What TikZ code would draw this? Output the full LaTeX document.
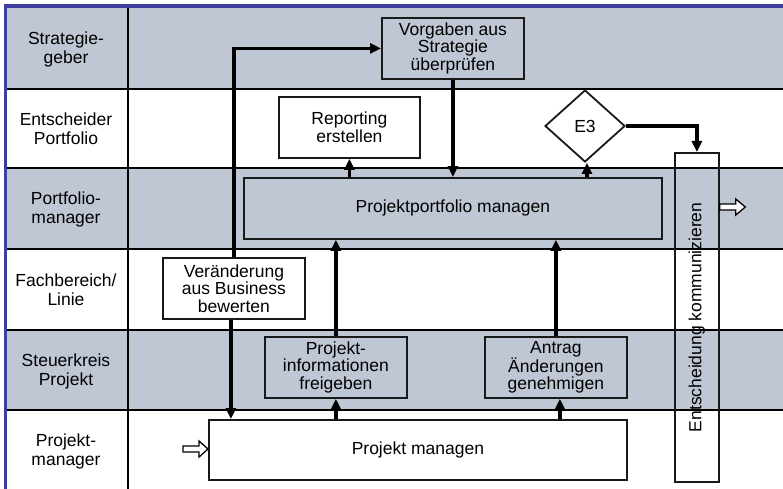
\documentclass[tikz,border=0pt]{standalone}
\usepackage{fontspec}
\setmainfont{Liberation Sans}
\usetikzlibrary{arrows.meta,shapes.geometric,calc}
\definecolor{lanegray}{RGB}{191,198,212}
\definecolor{frameblue}{RGB}{62,62,158}
\begin{document}
\begin{tikzpicture}[x=1pt,y=-1pt,
  every node/.style={font=\fontsize{17.5}{17.5}\selectfont, align=center, text=black},
  lanelabel/.style={font=\fontsize{17.5}{19}\selectfont},
  task/.style={draw=black!90, line width=1.8pt, inner sep=0pt, anchor=north west},
  graytask/.style={task, fill=lanegray},
  whitetask/.style={task, fill=white},
  laneline/.style={draw=black, line width=2.4pt},
  flow/.style={draw=black, line width=3.3pt, -{Triangle[length=11pt,width=10pt]}},
  hollowarrow/.style={draw=black, line width=1.3pt, fill=white, line join=miter}
]
\useasboundingbox (0,0) rectangle (783,489);

% swimlane backgrounds
\fill[white] (0,0) rectangle (783,489);
\fill[lanegray] (6,7) rectangle (783,89);
\fill[lanegray] (6,168) rectangle (783,249);
\fill[lanegray] (6,330) rectangle (783,410);

% lane separators
\foreach \yy in {89,168,249,330,410}
  \draw[laneline] (6,\yy) -- (783,\yy);
\draw[laneline] (128,7) -- (128,489);

% outer frame
\draw[frameblue, line width=3.5pt] (5.5,489) -- (5.5,6) -- (783,6);

% lane labels
\node[lanelabel] (l1) at (66,49)  {Strategie-\\geber};
\node[lanelabel] (l2) at (66,129) {Entscheider\\Portfolio};
\node[lanelabel] (l3) at (66,209) {Portfolio-\\manager};
\node[lanelabel] (l4) at (66,290) {Fachbereich/\\Linie};
\node[lanelabel] (l5) at (66,371) {Steuerkreis\\Projekt};
\node[lanelabel] (l6) at (66,451) {Projekt-\\manager};

% activities
\node[graytask, minimum width=142pt, minimum height=61pt] (vorgaben) at (381,17)
  {Vorgaben aus\\Strategie\\überprüfen};
\node[whitetask, minimum width=141pt, minimum height=61pt] (reporting) at (278,96)
  {Reporting\\erstellen};
\node[graytask, minimum width=418pt, minimum height=61pt] (portfolio) at (243,177)
  {Projektportfolio managen};
\node[draw=black!90, line width=1.8pt, fill=white, diamond, inner sep=0pt,
  minimum width=80pt, minimum height=72pt] (e3) at (585,126) {E3};
\node[task, minimum width=44pt, minimum height=329pt] (entsch) at (674,152) {};
\node[rotate=90] (entschtext) at (entsch.center) {Entscheidung kommunizieren};
\node[whitetask, minimum width=142pt, minimum height=61pt] (veraend) at (162,257)
  {Veränderung\\aus Business\\bewerten};
\node[graytask, minimum width=142pt, minimum height=61pt] (pinfo) at (264,336)
  {Projekt-\\informationen\\freigeben};
\node[graytask, minimum width=142pt, minimum height=61pt] (antrag) at (484,336)
  {Antrag\\Änderungen\\genehmigen};
\node[whitetask, minimum width=418pt, minimum height=60pt] (pm) at (208,419)
  {Projekt managen};

% flows
\draw[flow] (veraend.north) |- (vorgaben.west);
\draw[flow] ([xshift=-3pt]veraend.south) -- ([xshift=-3pt]veraend.south |- pm.north);
\draw[flow] (vorgaben.south) -- (vorgaben.south |- portfolio.north);
\draw[flow] (reporting.south |- portfolio.north) -- (reporting.south);
\draw[flow] ([xshift=2pt]e3.south |- portfolio.north) -- ([xshift=2pt]e3.south);
\draw[flow] (e3.east) -| (entsch.north);
\draw[flow] (pinfo.north) -- (pinfo.north |- portfolio.south);
\draw[flow] (pinfo.south |- pm.north) -- (pinfo.south);
\draw[flow] (antrag.north) -- (antrag.north |- portfolio.south);
\draw[flow] ([xshift=4pt]antrag.south |- pm.north) -- ([xshift=4pt]antrag.south);

% hollow hand-over arrows
\coordinate (inL) at ($(pm.west |- 0,449)+(-25,0)$);
\coordinate (outR) at (entsch.east |- 0,207);
\draw[hollowarrow] ($(inL)+(0,-3)$) -- ++(16,0) -- ++(0,-5) -- ++(9,8) -- ++(-9,8)
  -- ++(0,-5) -- ++(-16,0) -- cycle;
\draw[hollowarrow] ($(outR)+(0,-3)$) -- ++(16,0) -- ++(0,-5) -- ++(9.5,8) -- ++(-9.5,8)
  -- ++(0,-5) -- ++(-16,0) -- cycle;
\end{tikzpicture}
\end{document}
